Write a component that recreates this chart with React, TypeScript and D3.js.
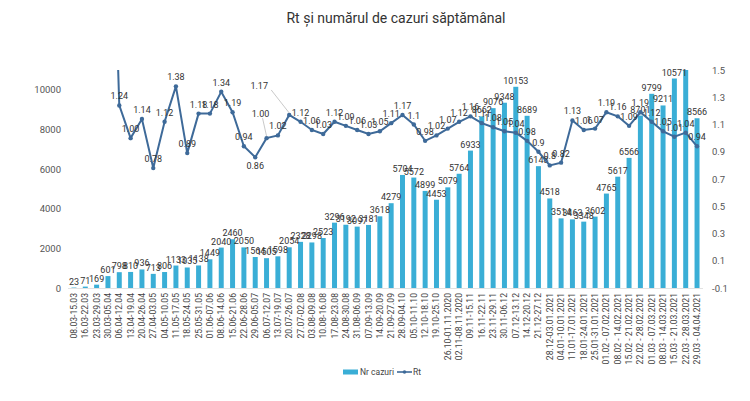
import React from 'react';
import * as d3 from 'd3';

const weeks = [
  '08.03-15.03', '16.03-22.03', '23.03-29.03', '30.03-05.04', '06.04-12.04', '13.04-19.04',
  '20.04-26.04', '27.04-03.05', '04.05-10.05', '11.05-17.05', '18.05-24.05', '25.05-31.05',
  '01.06-07.06', '08.06-14.06', '15.06-21.06', '22.06-28.06', '29.06-05.07', '06.07-12.07',
  '13.07-19.07', '20.07-26.07', '27.07-02.08', '03.08-09.08', '10.08-16.08', '17.08-23.08',
  '24.08-30.08', '31.08-06.09', '07.09-13.09', '14.09-20.09', '21.09-27.09', '28.09-04.10',
  '05.10-11.10', '12.10-18.10', '19.10-25.10', '26.10-01.11.2020', '02.11-08.11.2020',
  '09.11-15.11', '16.11-22.11', '23.11-29.11', '30.11-06.12', '07.12-13.12', '14.12-20.12',
  '21.12-27.12', '28.12-03.01.2021', '04.01-10.01.2021', '11.01-17.01.2021', '18.01-24.01.2021',
  '25.01-31.01.2021', '01.02 - 07.02.2021', '08.02 - 14.02.2021', '15.02 - 21.02.2021',
  '22.02 - 28.02.2021', '01.03 - 07.03.2021', '08.03 - 14.03.2021', '15.03 - 21.03.2021',
  '22.03 - 28.03.2021', '29.03 - 04.04.2021',
];

const cases = [
  23, 71, 169, 601, 798, 810, 936, 713, 806, 1133, 1035, 1138,
  1449, 2040, 2460, 2050, 1564, 1505, 1598, 2054, 2328, 2298, 2523, 3296,
  3192, 3097, 3181, 3618, 4279, 5704, 5572, 4899, 4453, 5079, 5764,
  6933, 8662, 9076, 9348, 10153, 8689, 6148, 4518, 3514, 3463, 3348,
  3602, 4765, 5617, 6566, 8701, 9799, 9211, 10571, 11300, 8566,
];

const rt: (number | null)[] = [
  null, null, null, 3.9, 1.24, 1.0, 1.14, 0.78, 1.12, 1.38, 0.89, 1.18,
  1.18, 1.34, 1.19, 0.94, 0.86, 1.0, 1.02, 1.17, 1.12, 1.06, 1.03, 1.12,
  1.09, 1.06, 1.03, 1.05, 1.11, 1.17, 1.1, 0.98, 1.02, 1.07, 1.12,
  1.16, 1.11, 1.08, 1.05, 1.04, 0.98, 0.9, 0.8, 0.82, 1.13, 1.06,
  1.07, 1.19, 1.16, 1.09, 1.19, 1.12, 1.05, 1.01, 1.04, 0.94,
];

const leftTicks = [0, 2000, 4000, 6000, 8000, 10000];
const rightTicks = [-0.1, 0.1, 0.3, 0.5, 0.7, 0.9, 1.1, 1.3, 1.5];

// label tweaks for a few Rt points (index -> offset, optional leader)
const rtLabelMoves: Record<number, { dx: number; dy: number; leader?: boolean }> = {
  16: { dx: 0, dy: 18 },
  17: { dx: -6, dy: -15, leader: true },
  19: { dx: -30, dy: -20, leader: true },
};

const fmtRt = (v: number) => {
  const s = v.toFixed(2);
  return s.endsWith('0') && !s.endsWith('.00') ? v.toFixed(1) : s;
};

export default function App() {
  const W = 750;
  const H = 401;
  const top = 70;
  const bottom = 288;
  const x = d3.scaleBand<string>().domain(weeks).range([68.3, 702.7]).paddingInner(0.56).paddingOuter(0.28);
  const yL = d3.scaleLinear().domain([0, 11000]).range([bottom, top]);
  const yR = d3.scaleLinear().domain([-0.1, 1.5]).range([bottom, top]);
  const cx = (i: number) => x(weeks[i])! + x.bandwidth() / 2;

  const line = d3
    .line<number | null>()
    .defined((d) => d !== null)
    .x((_, i) => cx(i))
    .y((d) => yR(d as number));

  const barColor = '#3aaed6';
  const lineColor = '#3e6a99';
  const font = 'Roboto, "Noto Sans", sans-serif';

  return (
    <svg width={W} height={H} style={{ position: 'absolute', left: 0, top: 0, background: '#fff' }} fontFamily={font}>
      <defs>
        <clipPath id="plot">
          <rect x={60} y={top} width={660} height={bottom - top + 1} />
        </clipPath>
      </defs>
      <text x={396} y={23} textAnchor="middle" fontSize={14} fill="#333">
        Rt și numărul de cazuri săptămânal
      </text>

      {leftTicks.map((t) => (
        <text key={t} x={61} y={yL(t) + 3.5} textAnchor="end" fontSize={9.5} fill="#555">
          {t}
        </text>
      ))}
      {rightTicks.map((t) => (
        <text key={t} x={712} y={yR(t) + 3.5} fontSize={9.5} fill="#555">
          {t}
        </text>
      ))}

      <line x1={68} x2={703} y1={bottom + 0.5} y2={bottom + 0.5} stroke="#e2e2e2" />

      <g clipPath="url(#plot)">
        {cases.map((v, i) => (
          <rect key={i} x={x(weeks[i])} y={yL(v)} width={x.bandwidth()} height={bottom - yL(v)} fill={barColor} />
        ))}
      </g>
      {cases.map((v, i) =>
        v > 11000 ? null : (
          <text key={i} x={cx(i)} y={yL(v) - 3} textAnchor="middle" fontSize={9} fill="#333">
            {v}
          </text>
        )
      )}

      <g clipPath="url(#plot)">
        <path d={line(rt) || ''} fill="none" stroke={lineColor} strokeWidth={2} />
        {rt.map((v, i) =>
          v === null ? null : <circle key={i} cx={cx(i)} cy={yR(v)} r={2.2} fill={lineColor} />
        )}
      </g>
      {rt.map((v, i) => {
        if (v === null || v > 1.5) return null;
        const m = rtLabelMoves[i] || { dx: 0, dy: 0 };
        const lx = cx(i) + m.dx;
        const ly = yR(v) - 6 + m.dy;
        return (
          <g key={i}>
            {m.leader && (
              <line x1={lx + (m.dx < -10 ? 12 : 2)} y1={ly + 1} x2={cx(i)} y2={yR(v) - 2} stroke="#bbb" strokeWidth={0.8} />
            )}
            <text x={lx} y={ly} textAnchor="middle" fontSize={9} fill="#333">
              {fmtRt(v)}
            </text>
          </g>
        );
      })}

      {weeks.map((w, i) => (
        <text
          key={w}
          transform={`translate(${cx(i) + 3},${bottom + 5}) rotate(-90)`}
          textAnchor="end"
          fontSize={8.6}
          fill="#444"
        >
          {w}
        </text>
      ))}

      <g transform="translate(343,372)">
        <rect x={0} y={-2.5} width={15} height={5} fill={barColor} />
        <text x={17} y={3} fontSize={8.5} fill="#444">Nr cazuri</text>
        <line x1={54} x2={69} y1={0} y2={0} stroke={lineColor} strokeWidth={1.6} />
        <circle cx={61.5} cy={0} r={1.8} fill={lineColor} />
        <text x={70} y={3} fontSize={8.5} fill="#444">Rt</text>
      </g>
    </svg>
  );
}
